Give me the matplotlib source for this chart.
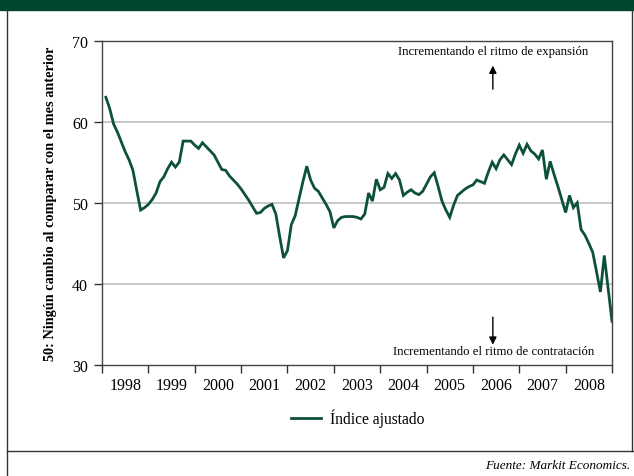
#!/usr/bin/env python3
"""
plot.py
Indice ajustado (Markit), 1998-2008, monthly values read off the chart.
"""

import numpy as np
import matplotlib
matplotlib.use("Agg")
import matplotlib.pyplot as plt
from matplotlib.lines import Line2D
from matplotlib.patches import Rectangle

# Data
# ----------------------------------------------------------------------
START_YEAR = 1998
INDEX_VALUES = [
    # 1998
    63.0, 61.6, 59.7, 58.7, 57.5, 56.3, 55.3, 54.0, 51.5, 49.1, 49.4, 49.8,
    # 1999
    50.4, 51.2, 52.6, 53.2, 54.2, 55.0, 54.4, 55.0, 57.6, 57.6, 57.6, 57.1,
    # 2000
    56.7, 57.4, 56.9, 56.4, 55.9, 55.0, 54.1, 54.0, 53.3, 52.8, 52.3, 51.7,
    # 2001
    51.0, 50.3, 49.5, 48.7, 48.8, 49.3, 49.6, 49.8, 48.6, 45.8, 43.2, 44.1,
    # 2002
    47.3, 48.4, 50.5, 52.6, 54.5, 52.8, 51.8, 51.4, 50.6, 49.8, 48.9, 46.9,
    # 2003
    47.8, 48.2, 48.3, 48.3, 48.3, 48.2, 48.0, 48.6, 51.2, 50.2, 52.9, 51.6,
    # 2004
    51.9, 53.6, 53.0, 53.6, 52.8, 50.9, 51.3, 51.6, 51.2, 51.0, 51.4, 52.3,
    # 2005
    53.2, 53.7, 52.0, 50.2, 49.1, 48.2, 49.7, 50.9, 51.3, 51.7, 52.0, 52.2,
    # 2006
    52.8, 52.6, 52.4, 53.8, 55.0, 54.2, 55.3, 55.9, 55.3, 54.7, 56.0, 57.1,
    # 2007
    56.1, 57.2, 56.4, 56.0, 55.4, 56.5, 52.9, 55.1, 53.5, 52.0, 50.4, 48.8,
    # 2008
    50.9, 49.4, 50.0, 46.7, 46.0, 45.0, 43.9, 41.5, 39.0, 43.5, 39.5, 35.4,
]
YEARS = list(range(1998, 2009))
Y_TICKS = [30, 40, 50, 60, 70]
GRID_LEVELS = [40, 50, 60]

YLABEL = "50: Ningún cambio al comparar con el mes anterior"
TOP_NOTE = "Incrementando el ritmo de expansión"
BOTTOM_NOTE = "Incrementando el ritmo de contratación"
LEGEND_LABEL = "Índice ajustado"
SOURCE = "Fuente: Markit Economics."
# ----------------------------------------------------------------------

GREEN = "#0d5138"
HEADER = "#00452f"
FONT = "Liberation Serif"
ARROW = dict(arrowstyle="-|>", color="black", lw=1.0, mutation_scale=11,
             shrinkA=0, shrinkB=0)


def main():
    plt.rcParams["font.family"] = FONT
    fig = plt.figure(figsize=(6.34, 4.77), dpi=100)

    # header band and frame
    fig.patches.append(Rectangle((0, 1 - 11 / 477), 1, 11 / 477,
                                 transform=fig.transFigure,
                                 color=HEADER, zorder=0))
    frame = dict(transform=fig.transFigure, color="#333333", lw=1.0)
    fig.lines.append(Line2D([7 / 634, 7 / 634], [0, 1 - 11 / 477], **frame))
    fig.lines.append(Line2D([632 / 634, 632 / 634],
                            [1 - 452 / 477, 1 - 11 / 477], **frame))
    fig.lines.append(Line2D([7 / 634, 1], [1 - 452 / 477, 1 - 452 / 477],
                            **frame))

    ax = fig.add_axes([102 / 634, 1 - 366 / 477, 510 / 634, 324.5 / 477])

    months = np.arange(1, len(INDEX_VALUES) + 1)
    x = START_YEAR + months / 12.0
    ax.plot(x, INDEX_VALUES, color=GREEN, lw=2.0, label=LEGEND_LABEL,
            solid_joinstyle="miter", zorder=3)

    for level in GRID_LEVELS:
        ax.axhline(level, color="#c4c4c4", lw=1.3, zorder=1)

    ax.set_xlim(1998, 2009)
    ax.set_ylim(30, 70)
    ax.set_yticks(Y_TICKS)
    ax.set_xticks(range(1998, 2010))
    ax.set_xticklabels([])
    ax.set_xticks([yr + 0.5 for yr in YEARS], minor=True)
    ax.set_xticklabels([str(yr) for yr in YEARS], minor=True)
    ax.tick_params(axis="x", which="minor", length=0, pad=9, labelsize=11.5)
    ax.tick_params(axis="x", which="major", direction="out", length=6,
                   width=1, color="#333333")
    ax.tick_params(axis="y", direction="out", length=6, width=1,
                   color="#333333", labelsize=11.5, pad=4)
    for side in ax.spines.values():
        side.set_color("#444444")
        side.set_linewidth(1.0)

    ax.set_ylabel(YLABEL, fontsize=10.3, fontweight="bold", labelpad=11)

    # annotations
    ax.text(2006.43, 68.7, TOP_NOTE, ha="center", va="center", fontsize=9.2)
    ax.annotate("", xy=(2006.43, 66.9), xytext=(2006.43, 64.0),
                arrowprops=ARROW)
    ax.text(2006.45, 31.7, BOTTOM_NOTE, ha="center", va="center",
            fontsize=9.2)
    ax.annotate("", xy=(2006.43, 32.5), xytext=(2006.43, 35.9),
                arrowprops=ARROW)

    fig.legend(loc="center", bbox_to_anchor=(358 / 634, 1 - 419 / 477),
               frameon=False, fontsize=11.2, handlelength=1.9,
               handletextpad=0.6)

    fig.text(630 / 634, 1 - 466 / 477, SOURCE, ha="right", va="center",
             fontsize=9.5, style="italic")

    fig.savefig("out.png", dpi=100)


if __name__ == "__main__":
    main()
